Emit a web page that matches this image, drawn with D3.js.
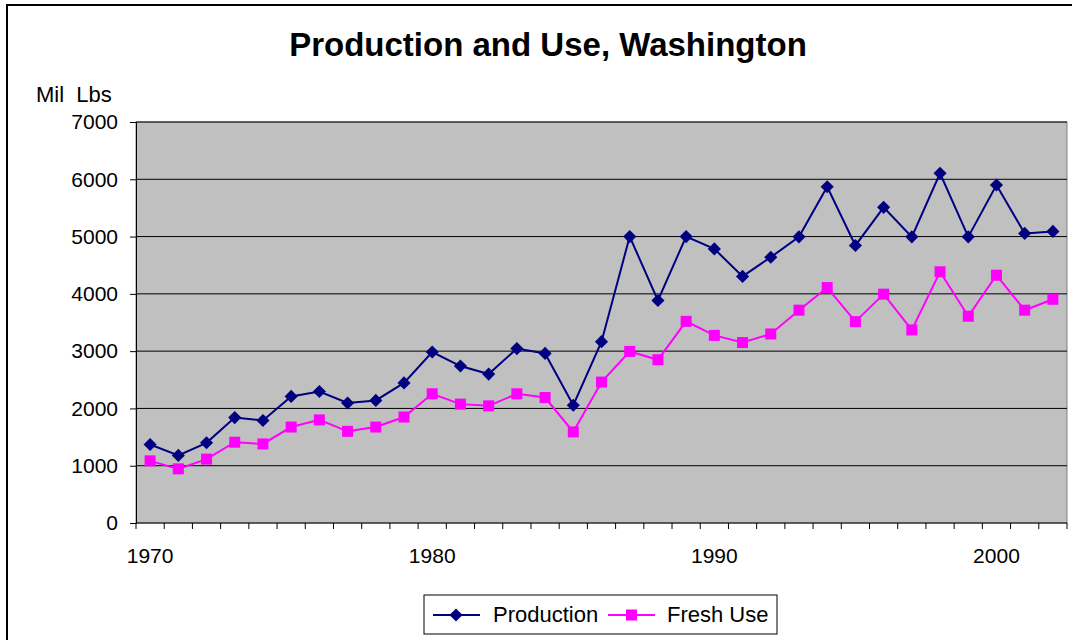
<!DOCTYPE html>
<html>
<head>
<meta charset="utf-8">
<script src="https://cdn.jsdelivr.net/npm/d3@7"></script>
<style>
  body { margin: 0; background: #fff; }
  svg { display: block; font-family: "Liberation Sans", Arial, sans-serif; }
</style>
</head>
<body>
<svg id="chart" width="1072" height="640"></svg>
<script>
const years = d3.range(1970, 2003);
const production = [1370, 1180, 1400, 1840, 1790, 2210, 2295, 2095, 2140, 2445,
  2985, 2740, 2600, 3045, 2960, 2055, 3165, 5000, 3885, 5000,
  4785, 4305, 4640, 4995, 5870, 4845, 5510, 4995, 6105, 4995,
  5900, 5055, 5090];
const freshUse = [1085, 945, 1115, 1410, 1380, 1675, 1800, 1600, 1675, 1850,
  2255, 2075, 2045, 2255, 2190, 1590, 2460, 2995, 2850, 3520,
  3275, 3150, 3300, 3715, 4110, 3515, 3995, 3370, 4385, 3610,
  4325, 3715, 3905];
const yTicks = [0, 1000, 2000, 3000, 4000, 5000, 6000, 7000];
const yearLabels = [1970, 1980, 1990, 2000];

const svg = d3.select("#chart");
const margin = { top: 122, left: 136, right: 5, bottom: 117 };
const width = 1072 - margin.left - margin.right,
      height = 640 - margin.top - margin.bottom;

// outer chart border
svg.append("rect")
  .attr("x", 7).attr("y", 5)
  .attr("width", 1080).attr("height", 660)
  .attr("fill", "#fff").attr("stroke", "#000").attr("stroke-width", 2);

svg.append("text")
  .attr("x", 548).attr("y", 56)
  .attr("text-anchor", "middle")
  .attr("font-size", "33px").attr("font-weight", "bold")
  .text("Production and Use, Washington");

svg.append("text")
  .attr("x", 36).attr("y", 102)
  .attr("font-size", "22px")
  .attr("xml:space", "preserve")
  .text("Mil  Lbs");

const g = svg.append("g")
  .attr("transform", `translate(${margin.left},${margin.top})`);

const x = d3.scaleBand().domain(years).range([0, width]);
const y = d3.scaleLinear().domain([0, 7000]).range([height, 0]);

g.append("rect")
  .attr("width", width).attr("height", height)
  .attr("fill", "#c0c0c0").attr("stroke", "#808080");

// gridlines
g.append("g")
  .selectAll("line")
  .data(yTicks.filter(d => d > 0))
  .join("line")
  .attr("x1", 0).attr("x2", width)
  .attr("y1", d => y(d)).attr("y2", d => y(d))
  .attr("stroke", "#000").attr("stroke-width", 1);

// y axis
const yAxis = g.append("g")
  .call(d3.axisLeft(y).tickValues(yTicks).tickSize(6).tickPadding(12).tickFormat(d3.format("d")));
yAxis.select(".domain").attr("stroke", "#000");
yAxis.selectAll("text").attr("font-size", "21px").attr("font-family", "Liberation Sans, Arial, sans-serif").attr("fill", "#000");

// x axis: ticks at category boundaries
const xTickPos = d3.range(years.length + 1).map(i => i * x.step());
const xa = g.append("g").attr("transform", `translate(0,${height})`);
xa.append("line").attr("x1", 0).attr("x2", width).attr("stroke", "#000");
xa.selectAll(".tk")
  .data(xTickPos)
  .join("line")
  .attr("x1", d => d).attr("x2", d => d)
  .attr("y1", 0).attr("y2", 6)
  .attr("stroke", "#000");
xa.selectAll(".lbl")
  .data(yearLabels)
  .join("text")
  .attr("x", d => x(d) + x.bandwidth() / 2)
  .attr("y", 40)
  .attr("text-anchor", "middle")
  .attr("font-size", "21px")
  .text(d => d);

const cx = d => x(d) + x.bandwidth() / 2;

const line = d3.line().x(d => cx(d[0])).y(d => y(d[1]));

const prodData = years.map((yr, i) => [yr, production[i]]);
const freshData = years.map((yr, i) => [yr, freshUse[i]]);

g.append("path").datum(freshData)
  .attr("d", line).attr("fill", "none")
  .attr("stroke", "#ff00ff").attr("stroke-width", 2);
g.append("path").datum(prodData)
  .attr("d", line).attr("fill", "none")
  .attr("stroke", "#000080").attr("stroke-width", 2);

const diamond = d3.symbol().type(d3.symbolDiamond2).size(110);

g.selectAll(".fresh")
  .data(freshData)
  .join("rect")
  .attr("x", d => cx(d[0]) - 5.5).attr("y", d => y(d[1]) - 5.5)
  .attr("width", 11).attr("height", 11)
  .attr("fill", "#ff00ff");

g.selectAll(".prod")
  .data(prodData)
  .join("path")
  .attr("d", diamond)
  .attr("transform", d => `translate(${cx(d[0])},${y(d[1])})`)
  .attr("fill", "#000080");

// legend
const lg = svg.append("g");
lg.append("rect")
  .attr("x", 424).attr("y", 595).attr("width", 353).attr("height", 39)
  .attr("fill", "#fff").attr("stroke", "#000");
lg.append("line").attr("x1", 433).attr("x2", 480).attr("y1", 615).attr("y2", 615)
  .attr("stroke", "#000080").attr("stroke-width", 2);
lg.append("path").attr("d", diamond).attr("transform", "translate(456,615)").attr("fill", "#000080");
lg.append("text").attr("x", 493).attr("y", 622).attr("font-size", "22px").text("Production");
lg.append("line").attr("x1", 608).attr("x2", 655).attr("y1", 615).attr("y2", 615)
  .attr("stroke", "#ff00ff").attr("stroke-width", 2);
lg.append("rect").attr("x", 626).attr("y", 609.5).attr("width", 11).attr("height", 11).attr("fill", "#ff00ff");
lg.append("text").attr("x", 667).attr("y", 622).attr("font-size", "22px").text("Fresh Use");
</script>
</body>
</html>
